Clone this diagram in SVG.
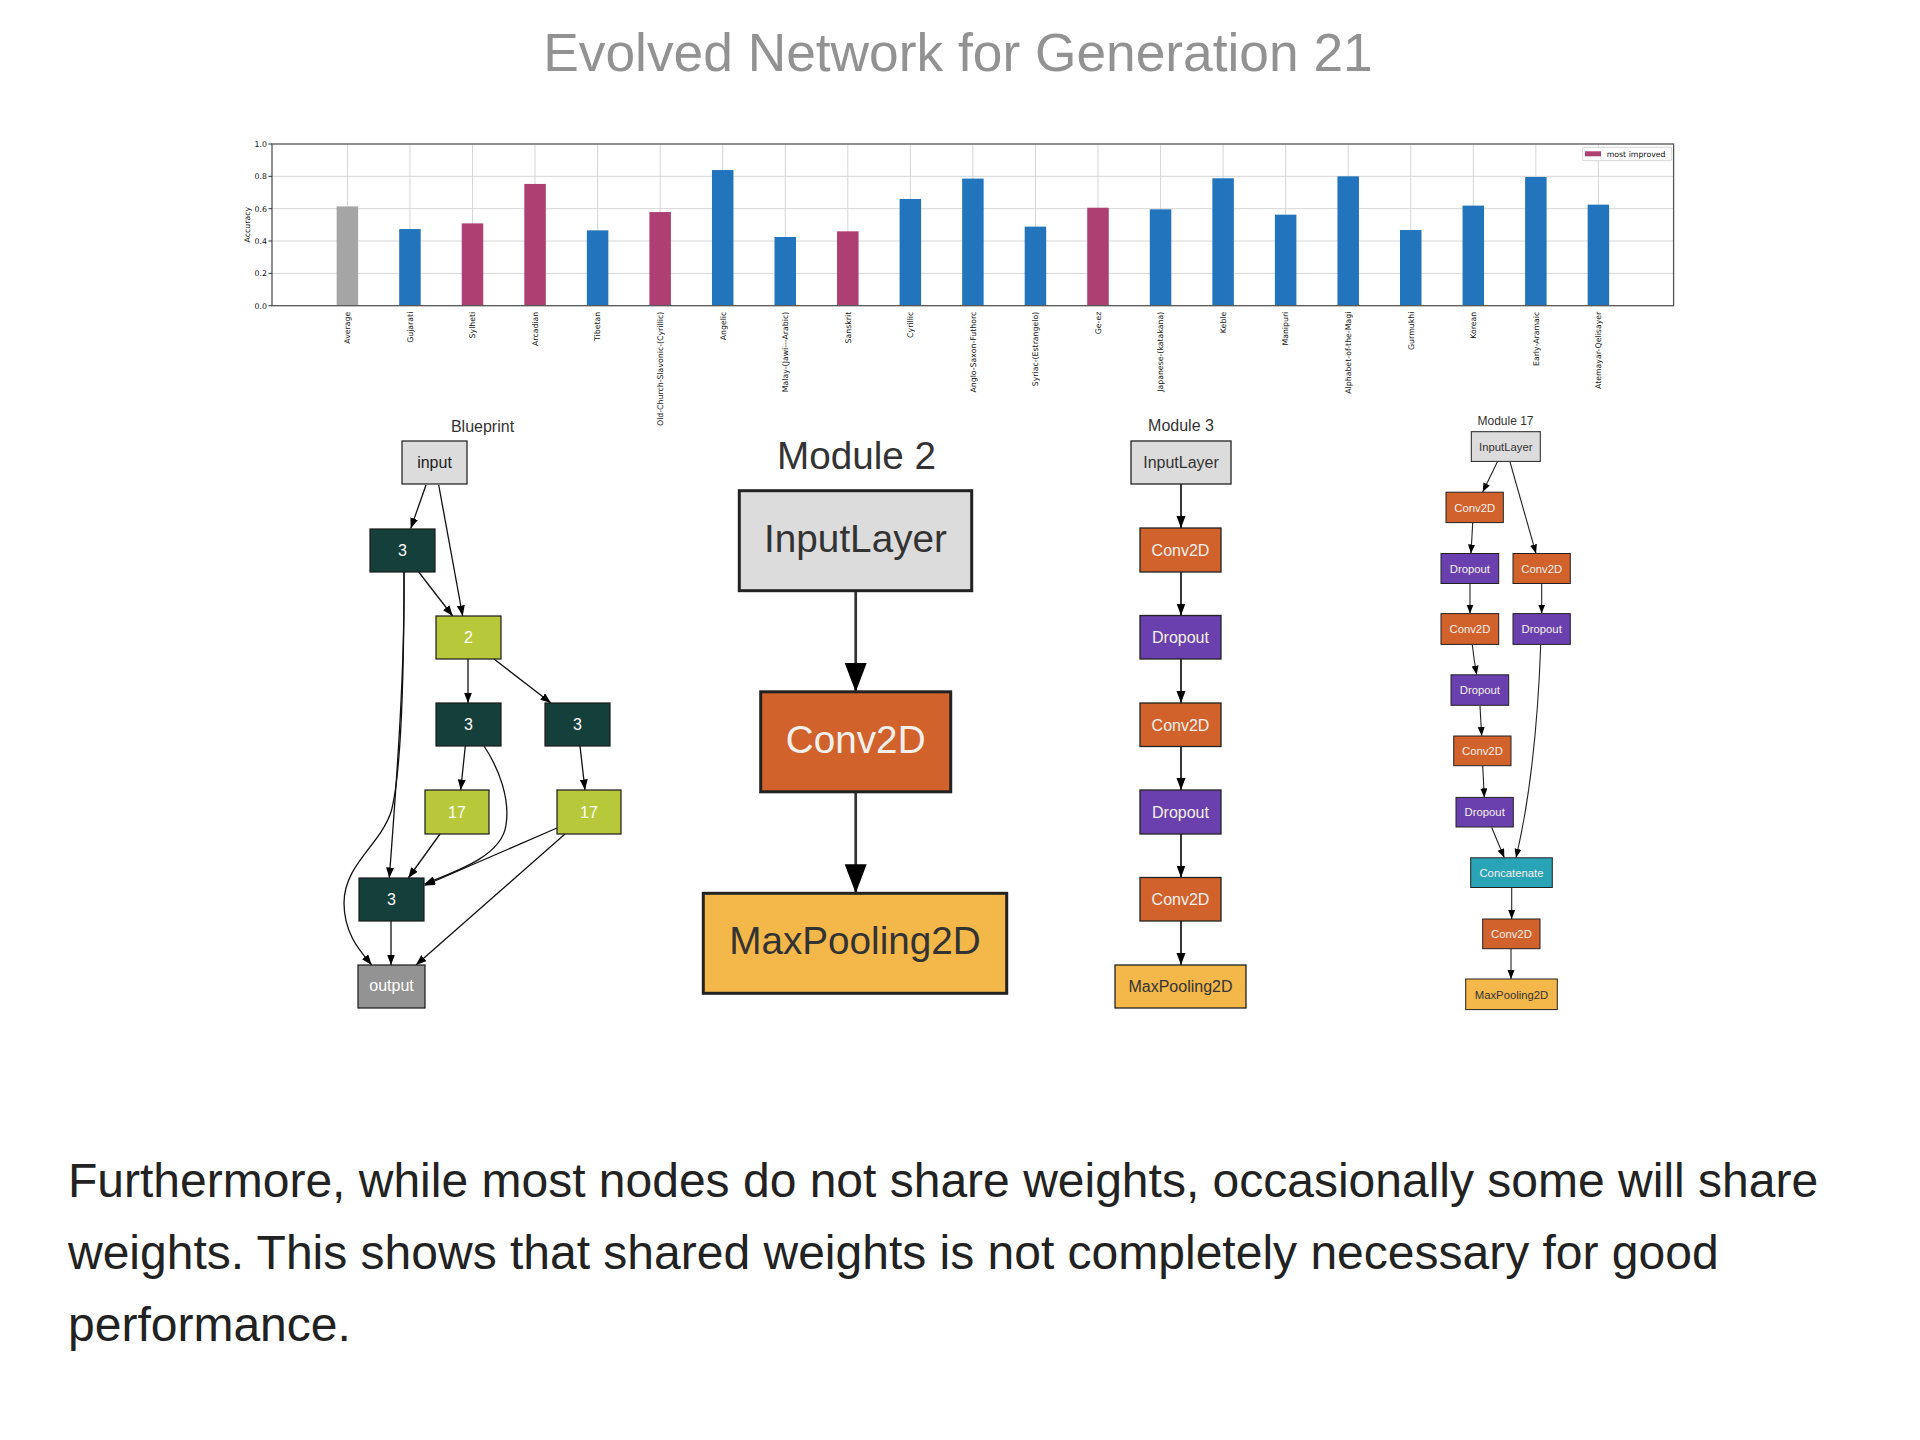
<svg xmlns="http://www.w3.org/2000/svg" width="1920" height="1440" viewBox="0 0 1920 1440">
<defs>
<style>
.sans{font-family:"Liberation Sans",Arial,sans-serif}
.dv{font-family:"DejaVu Sans",sans-serif;font-size:7.8px;fill:#111}
.grid{stroke:#d6d6d6;stroke-width:1}
.blue{fill:#2275bc}
.mag{fill:#ad3f72}
.gry{fill:#a5a5a5}
.xl{text-anchor:end}
.bp rect{stroke:#1a1a1a;stroke-width:1.2}
.bp text{font-family:"Liberation Sans",Arial,sans-serif;font-size:16px;text-anchor:middle;fill:#fff}
.teal{fill:#153f3b}
.lime{fill:#b7c93a}
.lgray{fill:#dcdcdc}
.dgray{fill:#939393}
.m2 rect{stroke:#222;stroke-width:3}
.m2 text{font-family:"Liberation Sans",Arial,sans-serif;font-size:38.7px;text-anchor:middle}
.m3 rect{stroke:#222;stroke-width:1.3}
.m3 text{font-family:"Liberation Sans",Arial,sans-serif;font-size:16px;text-anchor:middle}
.m17 rect{stroke:#222;stroke-width:1}
.m17 text{font-family:"Liberation Sans",Arial,sans-serif;font-size:11.3px;text-anchor:middle}
.conv{fill:#d1622c}
.drop{fill:#6a40ae}
.pool{fill:#f4b84a}
.cat{fill:#29a3b6}
.inl{fill:#dcdcdc}
.wt{fill:#f5f0ec}
.dk{fill:#333}
.e{fill:none;stroke:#111;stroke-width:1.3}
.e2{fill:none;stroke:#333;stroke-width:2.7}
.e3{fill:none;stroke:#222;stroke-width:1.8}
.e17{fill:none;stroke:#222;stroke-width:1.1}
</style>
<marker id="aBp" markerUnits="userSpaceOnUse" markerWidth="11" markerHeight="8" refX="10.5" refY="4" orient="auto"><path d="M0,0 L10.5,4 L0,8 z" fill="#000"/></marker>
<marker id="aM2" markerUnits="userSpaceOnUse" markerWidth="30" markerHeight="23" refX="29" refY="11" orient="auto"><path d="M0,0 L29,11 L0,22 z" fill="#000"/></marker>
<marker id="aM3" markerUnits="userSpaceOnUse" markerWidth="13" markerHeight="10" refX="12" refY="4.5" orient="auto"><path d="M0,0 L12,4.5 L0,9 z" fill="#000"/></marker>
<marker id="aM17" markerUnits="userSpaceOnUse" markerWidth="10" markerHeight="8" refX="9" refY="3.5" orient="auto"><path d="M0,0 L9,3.5 L0,7 z" fill="#000"/></marker>
</defs>
<rect width="1920" height="1440" fill="#fff"/>

<text class="sans" x="958" y="71" font-size="53.3" text-anchor="middle" fill="#929292">Evolved Network for Generation 21</text>

<g id="chart">
<g class="grid">
<line x1="272" y1="273.36" x2="1673.6" y2="273.36"/>
<line x1="272" y1="241.02" x2="1673.6" y2="241.02"/>
<line x1="272" y1="208.68" x2="1673.6" y2="208.68"/>
<line x1="272" y1="176.34" x2="1673.6" y2="176.34"/>
<line x1="347.4" y1="144" x2="347.4" y2="305.7"/>
<line x1="409.95" y1="144" x2="409.95" y2="305.7"/>
<line x1="472.5" y1="144" x2="472.5" y2="305.7"/>
<line x1="535.05" y1="144" x2="535.05" y2="305.7"/>
<line x1="597.6" y1="144" x2="597.6" y2="305.7"/>
<line x1="660.15" y1="144" x2="660.15" y2="305.7"/>
<line x1="722.7" y1="144" x2="722.7" y2="305.7"/>
<line x1="785.25" y1="144" x2="785.25" y2="305.7"/>
<line x1="847.8" y1="144" x2="847.8" y2="305.7"/>
<line x1="910.35" y1="144" x2="910.35" y2="305.7"/>
<line x1="972.9" y1="144" x2="972.9" y2="305.7"/>
<line x1="1035.45" y1="144" x2="1035.45" y2="305.7"/>
<line x1="1098" y1="144" x2="1098" y2="305.7"/>
<line x1="1160.55" y1="144" x2="1160.55" y2="305.7"/>
<line x1="1223.1" y1="144" x2="1223.1" y2="305.7"/>
<line x1="1285.65" y1="144" x2="1285.65" y2="305.7"/>
<line x1="1348.2" y1="144" x2="1348.2" y2="305.7"/>
<line x1="1410.75" y1="144" x2="1410.75" y2="305.7"/>
<line x1="1473.3" y1="144" x2="1473.3" y2="305.7"/>
<line x1="1535.85" y1="144" x2="1535.85" y2="305.7"/>
<line x1="1598.4" y1="144" x2="1598.4" y2="305.7"/>
</g>
<rect class="gry" x="336.65" y="206.42" width="21.5" height="99.28"/>
<rect class="blue" x="399.2" y="229.05" width="21.5" height="76.65"/>
<rect class="mag" x="461.75" y="223.39" width="21.5" height="82.31"/>
<rect class="mag" x="524.3" y="183.94" width="21.5" height="121.76"/>
<rect class="blue" x="586.85" y="230.35" width="21.5" height="75.35"/>
<rect class="mag" x="649.4" y="212.08" width="21.5" height="93.62"/>
<rect class="blue" x="711.95" y="170.03" width="21.5" height="135.67"/>
<rect class="blue" x="774.5" y="236.98" width="21.5" height="68.72"/>
<rect class="mag" x="837.05" y="231.32" width="21.5" height="74.38"/>
<rect class="blue" x="899.6" y="198.98" width="21.5" height="106.72"/>
<rect class="blue" x="962.15" y="178.6" width="21.5" height="127.1"/>
<rect class="blue" x="1024.7" y="226.63" width="21.5" height="79.07"/>
<rect class="mag" x="1087.25" y="207.71" width="21.5" height="97.99"/>
<rect class="blue" x="1149.8" y="209.33" width="21.5" height="96.37"/>
<rect class="blue" x="1212.35" y="178.28" width="21.5" height="127.42"/>
<rect class="blue" x="1274.9" y="214.66" width="21.5" height="91.04"/>
<rect class="blue" x="1337.45" y="176.34" width="21.5" height="129.36"/>
<rect class="blue" x="1400" y="230.02" width="21.5" height="75.68"/>
<rect class="blue" x="1462.55" y="205.61" width="21.5" height="100.09"/>
<rect class="blue" x="1525.1" y="176.99" width="21.5" height="128.71"/>
<rect class="blue" x="1587.65" y="204.64" width="21.5" height="101.06"/>
<rect x="272" y="144" width="1401.6" height="161.7" fill="none" stroke="#555" stroke-width="1.3"/>
<g stroke="#333" stroke-width="1">
<line x1="268.5" y1="305.7" x2="272" y2="305.7"/>
<line x1="268.5" y1="273.36" x2="272" y2="273.36"/>
<line x1="268.5" y1="241.02" x2="272" y2="241.02"/>
<line x1="268.5" y1="208.68" x2="272" y2="208.68"/>
<line x1="268.5" y1="176.34" x2="272" y2="176.34"/>
<line x1="268.5" y1="144" x2="272" y2="144"/>
</g>
<g class="dv" text-anchor="end">
<text x="267" y="308.6">0.0</text>
<text x="267" y="276.2">0.2</text>
<text x="267" y="243.9">0.4</text>
<text x="267" y="211.6">0.6</text>
<text x="267" y="179.2">0.8</text>
<text x="267" y="146.9">1.0</text>
</g>
<text class="dv" transform="translate(250,224.7) rotate(-90)" text-anchor="middle">Accuracy</text>
<g class="dv xl">
<text transform="translate(350.2,311.7) rotate(-90)">Average</text>
<text transform="translate(412.75,311.7) rotate(-90)">Gujarati</text>
<text transform="translate(475.3,311.7) rotate(-90)">Sylheti</text>
<text transform="translate(537.85,311.7) rotate(-90)">Arcadian</text>
<text transform="translate(600.4,311.7) rotate(-90)">Tibetan</text>
<text transform="translate(662.95,311.7) rotate(-90)">Old-Church-Slavonic-(Cyrillic)</text>
<text transform="translate(725.5,311.7) rotate(-90)">Angelic</text>
<text transform="translate(788.05,311.7) rotate(-90)">Malay-(Jawi---Arabic)</text>
<text transform="translate(850.6,311.7) rotate(-90)">Sanskrit</text>
<text transform="translate(913.15,311.7) rotate(-90)">Cyrillic</text>
<text transform="translate(975.7,311.7) rotate(-90)">Anglo-Saxon-Futhorc</text>
<text transform="translate(1038.25,311.7) rotate(-90)">Syriac-(Estrangelo)</text>
<text transform="translate(1100.8,311.7) rotate(-90)">Ge-ez</text>
<text transform="translate(1163.35,311.7) rotate(-90)">Japanese-(katakana)</text>
<text transform="translate(1225.9,311.7) rotate(-90)">Keble</text>
<text transform="translate(1288.45,311.7) rotate(-90)">Manipuri</text>
<text transform="translate(1351,311.7) rotate(-90)">Alphabet-of-the-Magi</text>
<text transform="translate(1413.55,311.7) rotate(-90)">Gurmukhi</text>
<text transform="translate(1476.1,311.7) rotate(-90)">Korean</text>
<text transform="translate(1538.65,311.7) rotate(-90)">Early-Aramaic</text>
<text transform="translate(1601.2,311.7) rotate(-90)">Atemayar-Qelisayer</text>
</g>
<rect x="1582.7" y="147.3" width="89" height="13.4" rx="1.5" fill="#fff" stroke="#ccc" stroke-width="0.8"/>
<rect class="mag" x="1585" y="151.3" width="16" height="5"/>
<text class="dv" x="1606.7" y="157">most improved</text>
</g>

<text class="sans" x="482.5" y="432" font-size="16" text-anchor="middle" fill="#333">Blueprint</text>
<g id="bp-edges">
<path class="e" marker-end="url(#aBp)" d="M426,485 L410.7,528.6"/>
<path class="e" marker-end="url(#aBp)" d="M438.7,485 L462.7,616"/>
<path class="e" marker-end="url(#aBp)" d="M418.7,572 L452.7,616"/>
<path class="e" marker-end="url(#aBp)" d="M404,572 C405,680 395,800 389.3,878"/>
<path class="e" marker-end="url(#aBp)" d="M404,572 C404,700 400,780 391,812 C380,845 344,865 344,903 C344,935 362,953 371.7,965"/>
<path class="e" marker-end="url(#aBp)" d="M468,659 L468,703"/>
<path class="e" marker-end="url(#aBp)" d="M494,659 L551,703"/>
<path class="e" marker-end="url(#aBp)" d="M465.3,746 L460.7,790"/>
<path class="e" marker-end="url(#aBp)" d="M484,746 C500,770 510,800 506,825 C502,855 460,870 424.5,884"/>
<path class="e" marker-end="url(#aBp)" d="M580,746 L585,790"/>
<path class="e" marker-end="url(#aBp)" d="M440,834 L408.3,878"/>
<path class="e" marker-end="url(#aBp)" d="M557,828 L424.5,885.5"/>
<path class="e" marker-end="url(#aBp)" d="M565,834 L416,965"/>
<path class="e" marker-end="url(#aBp)" d="M391,921 L391,965"/>
</g>
<g class="bp">
<g id="bp-input"><rect class="lgray" x="402" y="441" width="65" height="43"/><text x="434.5" y="467.5" style="fill:#222">input</text></g>
<g id="bp-3a"><rect class="teal" x="370" y="529" width="65" height="43"/><text x="402.5" y="556">3</text></g>
<g id="bp-2"><rect class="lime" x="436" y="616" width="65" height="43"/><text x="468.5" y="643">2</text></g>
<g id="bp-3b"><rect class="teal" x="436" y="703" width="65" height="43"/><text x="468.5" y="730">3</text></g>
<g id="bp-3c"><rect class="teal" x="545" y="703" width="65" height="43"/><text x="577.5" y="730">3</text></g>
<g id="bp-17a"><rect class="lime" x="425" y="790" width="64" height="44"/><text x="457" y="817.5">17</text></g>
<g id="bp-17b"><rect class="lime" x="557" y="790" width="64" height="44"/><text x="589" y="817.5">17</text></g>
<g id="bp-3d"><rect class="teal" x="359" y="878" width="65" height="43"/><text x="391.5" y="905">3</text></g>
<g id="bp-output"><rect class="dgray" x="358" y="965" width="67" height="43"/><text x="391.5" y="991">output</text></g>
</g>

<text class="sans" x="856.5" y="468.7" font-size="38.7" text-anchor="middle" fill="#333">Module 2</text>
<g id="m2-edges">
<path class="e2" marker-end="url(#aM2)" d="M855.7,590.7 L855.7,692"/>
<path class="e2" marker-end="url(#aM2)" d="M855.7,791.8 L855.7,893.3"/>
</g>
<g class="m2">
<g id="m2-input"><rect class="inl" x="739.3" y="490.7" width="232.4" height="100"/><text class="dk" x="855.5" y="552">InputLayer</text></g>
<g id="m2-conv"><rect class="conv" x="760.7" y="691.8" width="190" height="100"/><text class="wt" x="855.7" y="753">Conv2D</text></g>
<g id="m2-pool"><rect class="pool" x="703.3" y="893.3" width="303.4" height="100"/><text class="dk" x="855" y="954">MaxPooling2D</text></g>
</g>

<text class="sans" x="1181" y="431" font-size="16" text-anchor="middle" fill="#333">Module 3</text>
<g id="m3-edges">
<path class="e3" marker-end="url(#aM3)" d="M1181,484 L1181,528"/>
<path class="e3" marker-end="url(#aM3)" d="M1181,572 L1181,615.5"/>
<path class="e3" marker-end="url(#aM3)" d="M1181,659 L1181,703"/>
<path class="e3" marker-end="url(#aM3)" d="M1181,746.5 L1181,790"/>
<path class="e3" marker-end="url(#aM3)" d="M1181,834 L1181,877.5"/>
<path class="e3" marker-end="url(#aM3)" d="M1181,921 L1181,965"/>
</g>
<g class="m3">
<g id="m3-input"><rect class="inl" x="1131" y="441" width="100" height="43"/><text class="dk" x="1181" y="468">InputLayer</text></g>
<g id="m3-conv1"><rect class="conv" x="1140" y="528" width="81" height="44"/><text class="wt" x="1180.5" y="555.5">Conv2D</text></g>
<g id="m3-drop1"><rect class="drop" x="1140" y="615.5" width="81" height="43.5"/><text class="wt" x="1180.5" y="643">Dropout</text></g>
<g id="m3-conv2"><rect class="conv" x="1140" y="703" width="81" height="43.5"/><text class="wt" x="1180.5" y="730.5">Conv2D</text></g>
<g id="m3-drop2"><rect class="drop" x="1140" y="790" width="81" height="44"/><text class="wt" x="1180.5" y="817.5">Dropout</text></g>
<g id="m3-conv3"><rect class="conv" x="1140" y="877.5" width="81" height="43.5"/><text class="wt" x="1180.5" y="905">Conv2D</text></g>
<g id="m3-pool"><rect class="pool" x="1115" y="965" width="131" height="43"/><text class="dk" x="1180.5" y="992">MaxPooling2D</text></g>
</g>

<text class="sans" x="1505.5" y="425" font-size="12" text-anchor="middle" fill="#333">Module 17</text>
<g id="m17-edges">
<path class="e17" marker-end="url(#aM17)" d="M1497.3,462 L1482.7,492"/>
<path class="e17" marker-end="url(#aM17)" d="M1510,462 L1536,553.5"/>
<path class="e17" marker-end="url(#aM17)" d="M1472.7,523 L1471,553.5"/>
<path class="e17" marker-end="url(#aM17)" d="M1470,584 L1470,613.6"/>
<path class="e17" marker-end="url(#aM17)" d="M1472.3,645 Q1474,660 1476.7,674.8"/>
<path class="e17" marker-end="url(#aM17)" d="M1480,706 L1481.7,736"/>
<path class="e17" marker-end="url(#aM17)" d="M1482.7,766 L1484.3,797.4"/>
<path class="e17" marker-end="url(#aM17)" d="M1491.7,827.5 L1504.3,857.8"/>
<path class="e17" marker-end="url(#aM17)" d="M1541.7,584 L1541.7,613.6"/>
<path class="e17" marker-end="url(#aM17)" d="M1540.7,645 C1538,720 1532,790 1516,857.8"/>
<path class="e17" marker-end="url(#aM17)" d="M1511.7,888 L1511.7,919"/>
<path class="e17" marker-end="url(#aM17)" d="M1511,949 L1511,979"/>
</g>
<g class="m17">
<g id="m17-input"><rect class="inl" x="1471.3" y="431.7" width="69" height="29.7"/><text class="dk" x="1505.8" y="450.5">InputLayer</text></g>
<g id="m17-conv-l1"><rect class="conv" x="1446" y="492.2" width="57.3" height="30.4"/><text class="wt" x="1474.7" y="511.5">Conv2D</text></g>
<g id="m17-drop-l1"><rect class="drop" x="1441" y="553.5" width="57.7" height="30"/><text class="wt" x="1469.9" y="572.5">Dropout</text></g>
<g id="m17-conv-r1"><rect class="conv" x="1513" y="553.5" width="57.3" height="30"/><text class="wt" x="1541.7" y="572.5">Conv2D</text></g>
<g id="m17-conv-l2"><rect class="conv" x="1441" y="613.6" width="57.7" height="30.8"/><text class="wt" x="1469.9" y="633">Conv2D</text></g>
<g id="m17-drop-r2"><rect class="drop" x="1513" y="613.6" width="57.3" height="30.8"/><text class="wt" x="1541.7" y="633">Dropout</text></g>
<g id="m17-drop-l3"><rect class="drop" x="1451" y="674.8" width="57.7" height="30.5"/><text class="wt" x="1479.9" y="694">Dropout</text></g>
<g id="m17-conv-l4"><rect class="conv" x="1453.7" y="736" width="57.3" height="29.7"/><text class="wt" x="1482.4" y="755">Conv2D</text></g>
<g id="m17-drop-l5"><rect class="drop" x="1456" y="797.4" width="57.3" height="29.6"/><text class="wt" x="1484.7" y="816.3">Dropout</text></g>
<g id="m17-concat"><rect class="cat" x="1470.7" y="857.8" width="81.6" height="29.7"/><text class="wt" x="1511.5" y="876.7">Concatenate</text></g>
<g id="m17-conv-b"><rect class="conv" x="1482.7" y="919" width="57.3" height="29.7"/><text class="wt" x="1511.4" y="938">Conv2D</text></g>
<g id="m17-pool"><rect class="pool" x="1465.7" y="979" width="91.6" height="30.6"/><text class="dk" x="1511.5" y="998.5">MaxPooling2D</text></g>
</g>

<g class="sans" font-size="48" fill="#222">
<text x="68" y="1197">Furthermore, while most nodes do not share weights, occasionally some will share</text>
<text x="68" y="1269">weights. This shows that shared weights is not completely necessary for good</text>
<text x="68" y="1341">performance.</text>
</g>
</svg>
